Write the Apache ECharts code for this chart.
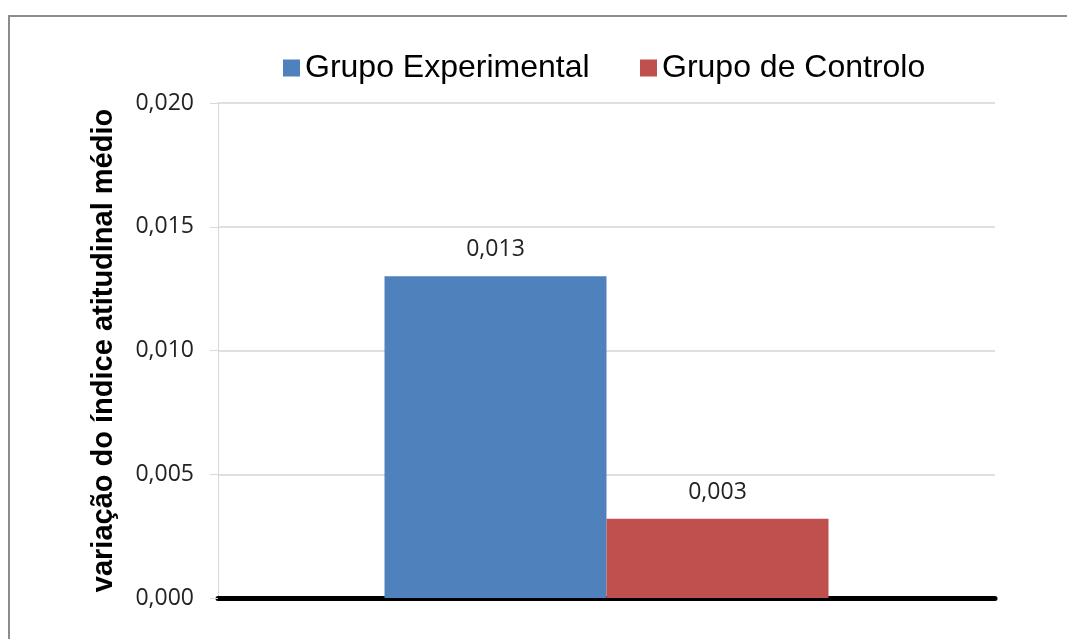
<!DOCTYPE html>
<html>
<head>
<meta charset="utf-8">
<script src="https://cdn.jsdelivr.net/npm/echarts@6/dist/echarts.min.js"></script>
<style>
  html, body { margin: 0; padding: 0; background: #fff; }
  #chart { width: 1067px; height: 639px; }
</style>
</head>
<body>
<div id="chart"></div>
<script>
// dados
const categories = ['']
const seriesNames = ['Grupo Experimental', 'Grupo de Controlo']
const experimentalValues = [0.0130]
const controloValues = [0.0032]
const yTitle = 'variação do índice atitudinal médio'

const fmt = v => Number(v).toFixed(3).replace('.', ',')

const chart = echarts.init(document.getElementById('chart'))

const legendText = {
  fontFamily: '"Liberation Sans", Arial, sans-serif',
  fontSize: 32,
  color: '#000',
  lineHeight: 32
}

const option = {
  animation: false,
  graphic: [
    {
      type: 'polyline',
      shape: { points: [[9, 639], [9, 16], [1067, 16]] },
      style: { stroke: '#8c8c8c', lineWidth: 2, fill: null }
    }
  ],
  legend: [
    {
      data: [seriesNames[0]],
      left: 283,
      top: 52,
      padding: 0,
      icon: 'rect',
      itemWidth: 17,
      itemHeight: 17,
      textStyle: legendText
    },
    {
      data: [seriesNames[1]],
      left: 640,
      top: 52,
      padding: 0,
      icon: 'rect',
      itemWidth: 17,
      itemHeight: 17,
      textStyle: legendText
    }
  ],
  grid: {
    left: 218,
    right: 72,
    top: 103,
    bottom: 41,
    containLabel: false
  },
  xAxis: {
    type: 'category',
    data: categories,
    axisLine: { show: true, lineStyle: { color: '#000', width: 5 } },
    axisTick: { show: false },
    axisLabel: { show: false },
    splitLine: { show: false }
  },
  yAxis: {
    type: 'value',
    min: 0,
    max: 0.02,
    interval: 0.005,
    name: yTitle,
    nameLocation: 'middle',
    nameRotate: 90,
    nameGap: 100,
    nameTextStyle: {
      fontFamily: '"Liberation Sans", Arial, sans-serif',
      fontWeight: 'bold',
      fontSize: 29,
      color: '#000'
    },
    axisLine: { show: true, lineStyle: { color: '#d9d9d9', width: 1 } },
    axisTick: { show: true, length: 8, lineStyle: { color: '#d9d9d9' } },
    axisLabel: {
      formatter: v => fmt(v),
      fontFamily: '"Open Sans", sans-serif',
      fontSize: 23,
      color: '#222',
      margin: 24
    },
    splitLine: { show: true, lineStyle: { color: '#d4d4d4', width: 1.5 } }
  },
  series: [
    {
      name: seriesNames[0],
      type: 'bar',
      data: experimentalValues,
      barWidth: 222,
      barGap: '0%',
      itemStyle: { color: '#4f81bd' },
      label: {
        show: true,
        position: 'top',
        distance: 15,
        formatter: p => fmt(p.value),
        fontFamily: '"Open Sans", sans-serif',
        fontSize: 23,
        color: '#222'
      }
    },
    {
      name: seriesNames[1],
      type: 'bar',
      data: controloValues,
      barWidth: 222,
      barGap: '0%',
      itemStyle: { color: '#c0504d' },
      label: {
        show: true,
        position: 'top',
        distance: 15,
        formatter: p => fmt(p.value),
        fontFamily: '"Open Sans", sans-serif',
        fontSize: 23,
        color: '#222'
      }
    }
  ]
}

chart.setOption(option)
window.addEventListener('resize', () => chart.resize())
</script>
</body>
</html>
